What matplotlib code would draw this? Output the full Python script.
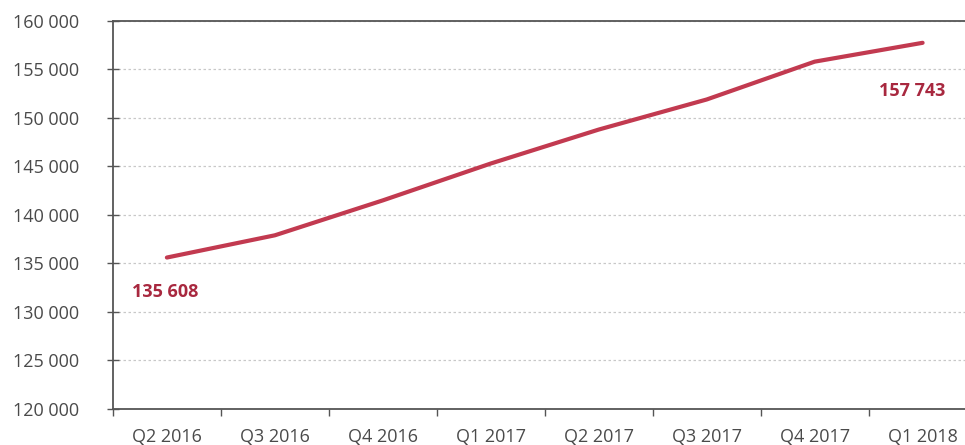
import matplotlib.pyplot as plt
from matplotlib.ticker import FuncFormatter, MultipleLocator

plt.rcParams['font.family'] = ['Open Sans', 'DejaVu Sans']

quarters = ['Q2 2016', 'Q3 2016', 'Q4 2016', 'Q1 2017',
            'Q2 2017', 'Q3 2017', 'Q4 2017', 'Q1 2018']
values = [135608, 137900, 141500, 145300, 148800, 151900, 155800, 157743]

line_col = '#c23a50'
lab_col = '#a8283f'
txt_col = '#4a4a4a'
axis_col = '#555555'

fig = plt.figure(figsize=(9.65, 4.45), dpi=100)
ax = fig.add_axes([0.117, 0.081, 0.895, 0.872])

x = list(range(len(quarters)))
ax.plot(x, values, color=line_col, lw=3.0, solid_capstyle='round')

ax.set_xlim(-0.5, len(quarters) - 0.5)
ax.set_ylim(120000, 160000)

# labels at category centres, tick marks at the boundaries
ax.set_xticks(x)
ax.set_xticklabels(quarters)
ax.set_xticks([i - 0.5 for i in range(len(quarters) + 1)], minor=True)
ax.tick_params(axis='x', which='major', length=0, pad=14, labelsize=13, labelcolor=txt_col)
ax.tick_params(axis='x', which='minor', length=5, width=1, direction='out', color=axis_col)

ax.yaxis.set_major_locator(MultipleLocator(5000))
ax.yaxis.set_major_formatter(FuncFormatter(lambda v, p: f'{int(v):,}'.replace(',', ' ')))
ax.tick_params(axis='y', length=8, width=1, direction='inout', color=axis_col,
               labelsize=13, labelcolor=txt_col, pad=20)

ax.grid(axis='y', linestyle=(0, (2, 2)), color='#c8c8c8', lw=0.9)
ax.set_axisbelow(True)

for s in ['left', 'bottom', 'top']:
    ax.spines[s].set_color(axis_col)
    ax.spines[s].set_linewidth(1.3)
ax.spines['right'].set_visible(False)

ax.annotate(f'{values[0]:,}'.replace(',', ' '), (x[0], values[0]),
            xytext=(-2, -34), textcoords='offset pixels', ha='center', va='center',
            fontsize=13, fontweight='bold', color=lab_col)
ax.annotate(f'{values[-1]:,}'.replace(',', ' '), (x[-1], values[-1]),
            xytext=(-10, -48), textcoords='offset pixels', ha='center', va='center',
            fontsize=13, fontweight='bold', color=lab_col)

fig.savefig('out.png', dpi=100)
